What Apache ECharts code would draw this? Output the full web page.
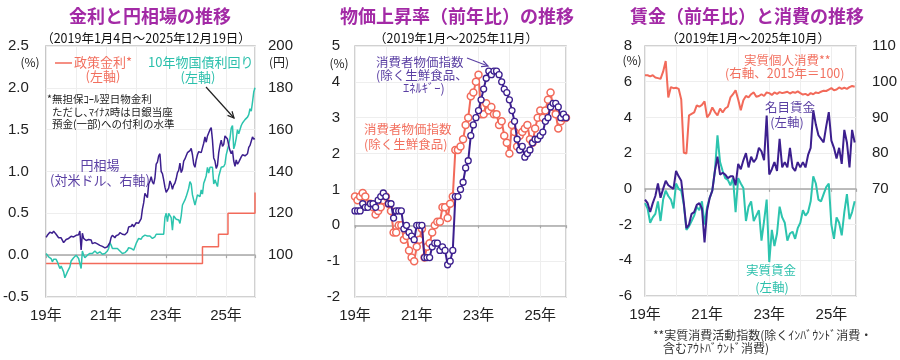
<!DOCTYPE html>
<html><head><meta charset="utf-8">
<script src="https://cdn.jsdelivr.net/npm/echarts@6/dist/echarts.min.js"></script>
<style>html,body{margin:0;padding:0;background:#fff}#c{width:900px;height:360px}</style>
</head><body><div id="c"></div>
<script>
// ---------- Panel 1: semi-monthly samples, Jan 2019 .. Dec 2025 ----------
const yenUsd = [
108.5,109.5,110.0,111.0,111.2,110.5,111.5,111.8,110.0,109.5,108.3,107.5,108.3,108.2,106.0,106.3,107.5,107.8,108.0,108.7,109.0,108.9,108.7,109.5,
109.5,109.3,109.8,111.5,102.5,110.5,108.0,107.5,107.0,107.6,107.5,107.0,107.3,105.5,106.2,106.0,106.0,105.4,105.5,104.7,104.5,104.2,104.0,103.5,
103.8,104.0,105.0,106.0,108.5,109.5,109.0,108.3,109.3,109.8,109.8,110.8,110.5,110.0,110.0,109.8,110.0,111.0,113.5,113.8,113.8,114.8,113.5,114.5,
115.5,114.8,115.3,115.0,117.5,122.0,125.0,129.5,130.0,127.5,134.0,135.5,137.5,135.0,134.0,137.0,143.5,144.5,147.5,148.5,140.0,139.0,136.0,132.5,
130.0,130.0,132.0,135.5,134.0,131.5,133.5,134.5,136.5,139.5,140.5,144.0,139.5,141.0,145.0,146.0,147.5,149.0,149.5,150.0,151.0,148.0,143.5,142.0,
145.5,148.0,149.5,150.3,149.0,151.3,153.5,156.5,154.0,157.0,157.0,160.0,161.0,155.0,146.5,145.0,141.5,143.0,149.0,152.5,155.0,152.0,153.0,157.0,
157.5,155.5,152.5,150.0,148.5,150.0,145.0,142.5,145.5,143.5,144.5,145.0,147.0,148.0,147.5,147.5,147.5,148.5,151.5,152.5,154.5,156.5,155.5,155.7
];
const jgb10y = [
0.02,0.00,-0.02,-0.03,-0.04,-0.08,-0.05,-0.04,-0.05,-0.08,-0.12,-0.16,-0.13,-0.14,-0.20,-0.27,-0.26,-0.20,-0.18,-0.14,-0.07,-0.08,-0.03,-0.01,
0.00,-0.02,-0.04,-0.05,-0.16,0.05,0.00,-0.03,-0.01,0.00,0.02,0.02,0.03,0.02,0.03,0.05,0.03,0.02,0.03,0.04,0.02,0.01,0.02,0.02,
0.04,0.05,0.08,0.15,0.12,0.08,0.10,0.08,0.08,0.08,0.06,0.05,0.03,0.02,0.02,0.03,0.04,0.06,0.09,0.09,0.08,0.07,0.06,0.07,
0.14,0.17,0.20,0.20,0.19,0.22,0.24,0.24,0.24,0.23,0.25,0.23,0.23,0.20,0.18,0.22,0.25,0.25,0.25,0.25,0.25,0.25,0.25,0.45,
0.50,0.40,0.50,0.50,0.45,0.30,0.47,0.46,0.43,0.43,0.42,0.38,0.47,0.60,0.62,0.66,0.70,0.75,0.80,0.88,0.85,0.72,0.66,0.60,
0.62,0.72,0.73,0.70,0.78,0.73,0.86,0.90,0.95,1.05,0.98,1.05,1.06,1.05,0.85,0.90,0.86,0.82,0.94,0.95,1.05,1.07,1.06,1.09,
1.20,1.22,1.32,1.40,1.52,1.55,1.27,1.32,1.40,1.50,1.45,1.43,1.55,1.58,1.56,1.62,1.60,1.65,1.68,1.75,1.72,1.83,1.95,2.00
];
const policyMonths = [0.1, 62.6, 69.0, 72.8, 83.6];   // months since Jan 2019
const policyRate   = [-0.1, 0.1, 0.25, 0.5, 0.75];

// ---------- Panel 2: monthly, Jan 2019 .. Nov 2025 ----------
const cpiCore = [
0.8,0.7,0.8,0.9,0.8,0.6,0.6,0.5,0.3,0.4,0.5,0.7,
0.8,0.6,0.4,-0.2,-0.2,0.0,0.0,-0.4,-0.3,-0.7,-0.9,-1.0,
-0.6,-0.4,-0.1,-0.9,-0.6,-0.5,-0.2,0.0,0.1,0.1,0.5,0.5,
0.2,0.6,0.8,2.1,2.1,2.2,2.4,2.8,3.0,3.6,3.7,4.0,
4.2,3.1,3.1,3.4,3.2,3.3,3.1,3.1,2.8,2.9,2.5,2.3,
2.0,2.8,2.6,2.2,2.5,2.6,2.7,2.8,2.4,2.3,2.7,3.0,
3.2,3.0,3.2,3.5,3.7,3.3,3.1,2.7,2.9,3.0,3.0
];
const cpiCoreCore = [
0.4,0.4,0.4,0.6,0.5,0.5,0.6,0.6,0.5,0.7,0.8,0.9,
0.8,0.6,0.6,0.2,0.4,0.4,0.4,-0.1,0.0,-0.2,-0.3,-0.4,
0.0,0.0,0.0,-0.9,-0.9,-0.9,-0.6,-0.5,-0.5,-0.7,-0.6,-0.7,
-1.1,-1.0,-0.7,0.8,0.8,1.0,1.2,1.6,1.8,2.5,2.8,3.0,
3.2,3.5,3.8,4.1,4.3,4.2,4.3,4.3,4.2,4.0,3.8,3.7,
3.5,3.2,2.9,2.4,2.1,2.2,1.9,2.0,2.1,2.3,2.4,2.4,
2.5,2.6,2.9,3.0,3.3,3.4,3.4,3.3,3.0,3.1,3.0
];

// ---------- Panel 3: monthly, Jan 2019 .. Oct 2025 ----------
const realConsumption = [
101.8,101.8,101.5,101.8,101.2,101.0,100.8,102.8,105.8,95.6,98.5,98.2,
98.3,98.0,95.0,80.1,79.9,90.6,91.0,91.4,93.4,93.0,93.5,94.5,
90.0,91.0,92.8,91.5,90.6,92.5,91.4,92.5,93.0,95.6,96.5,97.6,
95.0,92.0,94.8,96.0,95.6,96.5,97.0,95.8,96.0,96.5,96.0,97.0,
96.8,96.3,97.0,96.6,97.1,96.8,97.0,97.2,96.7,97.1,96.9,97.3,
96.8,96.4,96.6,96.2,96.8,96.5,97.0,96.8,97.2,97.5,97.4,97.8,
98.2,97.6,97.8,98.4,98.0,98.3,98.0,98.5,98.8,98.6
];
const nominalWage = [
-0.6,-0.8,-1.3,-0.8,-0.4,0.3,-0.5,0.0,0.45,0.2,0.1,0.0,
1.0,0.7,0.45,-0.8,-2.2,-2.0,-1.4,-1.3,-0.9,-0.8,-1.1,-3.0,
-1.2,-0.5,-0.1,1.0,1.8,0.8,0.9,0.8,0.6,0.7,0.7,0.2,
1.4,1.1,1.6,2.0,1.2,1.8,1.5,1.7,2.3,2.1,1.6,4.1,
0.8,1.1,1.5,1.0,2.8,1.2,1.5,1.2,2.3,1.2,1.0,1.5,
1.2,1.5,1.2,1.9,2.3,4.4,3.6,3.0,2.8,2.6,3.5,4.3,
2.7,2.3,1.7,2.3,1.4,3.3,2.6,1.2,3.3,2.6
];
const realWage = [
-0.8,-1.1,-1.9,-1.6,-1.4,-0.7,-1.8,-0.6,-0.1,-0.4,-0.6,-1.1,
0.3,0.0,-0.1,-0.9,-2.3,-2.1,-1.8,-1.5,-1.0,-1.2,-0.7,-2.0,
-1.0,-0.5,-0.1,1.0,3.0,1.5,1.0,0.6,0.5,0.2,0.6,-1.3,
0.6,0.3,0.05,-1.8,-1.0,-0.7,-1.8,-1.5,-1.2,-2.9,-1.8,-0.6,
-4.1,-2.3,-3.2,-2.5,-1.0,-1.6,-1.9,-2.9,-2.5,-2.4,-2.8,-2.2,
-1.9,-1.2,-1.5,-1.3,-0.7,0.7,0.3,-0.6,-0.7,-0.3,0.1,0.3,
-2.0,-2.8,-1.6,-1.9,-2.6,-1.3,-0.3,-1.7,-1.3,-0.7
];
const yearTicks = ['19年','21年','23年','25年'];

// ---------- styles ----------
const RED = '#F26A5A', TEAL = '#2CC4AE', PURPLE = '#3C1F8E';
const RED_T = '#F2705F', TEAL_T = '#2CC0AC', PURPLE_T = '#5A3FA3';
const TITLE_C = '#A32AA6';
const JP = "'Noto Sans CJK JP', sans-serif";
const NUM = "'Liberation Sans', 'Noto Sans CJK JP', sans-serif";
const GRID_C = '#EEEEEE';

function xPair(gridIndex, max, zeroY) {
  return [
    { type:'value', gridIndex, min:0, max, interval:12, position:'bottom',
      axisLine:{show:false}, axisTick:{show:false},
      axisLabel:{ color:'#222', fontSize:15, fontFamily:NUM, margin:11,
        formatter: v => (v % 24 === 0 && v <= 72) ? yearTicks[v/24] : '' },
      splitLine:{show:true, lineStyle:{color:GRID_C, width:1}} },
    { type:'value', gridIndex, min:0, max, interval:24, position:'top',
      axisLine:{show:true, onZero:true, onZeroAxisIndex:zeroY, lineStyle:{color:'#A8A8A8', width:1.5}},
      axisTick:{show:true, length:3, inside:true, lineStyle:{color:'#A8A8A8', width:1.2}},
      axisLabel:{show:false}, splitLine:{show:false} }
  ];
}
function yAx(gridIndex, pos, min, max, interval, fmt, margin, split) {
  return { type:'value', gridIndex, position:pos, min, max, interval,
    axisLine:{show:false}, axisTick:{show:false},
    axisLabel:{color:'#222', fontSize:15, fontFamily:NUM, margin, formatter:fmt},
    splitLine:{show:split, lineStyle:{color:GRID_C, width:1}} };
}
function txt(x, y, text, color, size, align, weight) {
  return { type:'text', x, y, z:10, style:{ text, fill:color,
    font:(weight||'normal') + ' ' + size + 'px ' + JP,
    textAlign:align||'left', align:align||'left', textVerticalAlign:'middle', verticalAlign:'middle' } };
}
function arrow(x1, y1, x2, y2, color) {
  const a = Math.atan2(y2-y1, x2-x1), L = 7, w = 0.45;
  return [
    { type:'line', z:10, shape:{x1, y1, x2, y2}, style:{stroke:color, lineWidth:1.2} },
    { type:'polyline', z:10, shape:{points:[[x2-L*Math.cos(a-w), y2-L*Math.sin(a-w)],[x2,y2],[x2-L*Math.cos(a+w), y2-L*Math.sin(a+w)]]},
      style:{stroke:color, lineWidth:1.2, fill:null} }
  ];
}

const chart = echarts.init(document.getElementById('c'), null, {renderer:'canvas'});
const gridStyle = {show:true, borderColor:'#C2C2C2', borderWidth:1.5, containLabel:false};

const option = {
  animation:false,
  backgroundColor:'#fff',
  grid:[
    Object.assign({left:45, top:46, width:210, height:251}, gridStyle),
    Object.assign({left:355, top:46, width:211, height:251}, gridStyle),
    Object.assign({left:645, top:46, width:213, height:250}, gridStyle)
  ],
  xAxis:[].concat(xPair(0, 83.6, 0), xPair(1, 82, 2), xPair(2, 81.5, 3)),
  yAxis:[
    yAx(0,'left',-0.5,2.5,0.5, v => v.toFixed(1), 17, true),
    yAx(0,'right',80,200,20, v => v >= 100 ? String(v) : '', 13, false),
    yAx(1,'left',-2,5,1, v => String(v), 15, true),
    yAx(2,'left',-6,8,2, v => String(v), 13, true),
    yAx(2,'right',40,110,10, v => v >= 70 ? String(v) : '', 16, false)
  ],
  series:[
    { type:'line', xAxisIndex:0, yAxisIndex:0, step:'end', showSymbol:false,
      data: policyMonths.map((m,i) => [m, policyRate[i]]),
      lineStyle:{color:RED, width:1.5}, itemStyle:{color:RED}, z:3 },
    { type:'line', xAxisIndex:0, yAxisIndex:0, showSymbol:false,
      data: jgb10y.map((v,i) => [i*0.5+0.1, v]),
      lineStyle:{color:TEAL, width:1.5}, itemStyle:{color:TEAL}, z:4 },
    { type:'line', xAxisIndex:0, yAxisIndex:1, showSymbol:false,
      data: yenUsd.map((v,i) => [i*0.5+0.1, v]),
      lineStyle:{color:PURPLE, width:1.5}, itemStyle:{color:PURPLE}, z:5 },

    { type:'line', xAxisIndex:2, yAxisIndex:2, symbol:'circle', symbolSize:7,
      data: cpiCore.map((v,i) => [i, v]),
      lineStyle:{color:RED, width:2}, itemStyle:{color:'#fff', borderColor:RED, borderWidth:1.5}, z:4 },
    { type:'line', xAxisIndex:2, yAxisIndex:2, symbol:'circle', symbolSize:6,
      data: cpiCoreCore.map((v,i) => [i, v]),
      lineStyle:{color:PURPLE, width:2}, itemStyle:{color:'#fff', borderColor:PURPLE, borderWidth:1.3}, z:5 },

    { type:'line', xAxisIndex:4, yAxisIndex:4, showSymbol:false,
      data: realConsumption.map((v,i) => [i, v]),
      lineStyle:{color:RED, width:2}, itemStyle:{color:RED}, z:3 },
    { type:'line', xAxisIndex:4, yAxisIndex:3, showSymbol:false,
      data: realWage.map((v,i) => [i, v]),
      lineStyle:{color:TEAL, width:2}, itemStyle:{color:TEAL}, z:4 },
    { type:'line', xAxisIndex:4, yAxisIndex:3, showSymbol:false,
      data: nominalWage.map((v,i) => [i, v]),
      lineStyle:{color:PURPLE, width:2}, itemStyle:{color:PURPLE}, z:5 }
  ],
  graphic:[].concat(
    [
      txt(150, 16, '金利と円相場の推移', TITLE_C, 18, 'center', 'bold'),
      txt(457, 16, '物価上昇率（前年比）の推移', TITLE_C, 18, 'center', 'bold'),
      txt(747, 16, '賃金（前年比）と消費の推移', TITLE_C, 18, 'center', 'bold'),
      txt(146, 38, '（2019年1月4日～2025年12月19日）', '#111', 12.5, 'center'),
      txt(456, 38, '（2019年1月～2025年11月）', '#111', 12.5, 'center'),
      txt(748, 38, '（2019年1月～2025年10月）', '#111', 12.5, 'center'),
      txt(30, 62, '(%)', '#222', 12, 'center'),
      txt(279, 62, '(円)', '#222', 12, 'center'),
      txt(339, 63, '(%)', '#222', 12, 'center'),
      txt(632, 60, '(%)', '#222', 12, 'center'),

      { type:'line', z:10, shape:{x1:55, y1:63, x2:72, y2:63}, style:{stroke:RED, lineWidth:1.5} },
      txt(74, 62, '政策金利*', RED_T, 13, 'left'),
      txt(103, 76, '(左軸)', RED_T, 13, 'center'),
      txt(148, 62, '10年物国債利回り', TEAL_T, 13, 'left'),
      txt(198, 77, '(左軸)', TEAL_T, 13, 'center'),
      txt(47, 99, '*無担保ｺｰﾙ翌日物金利', '#222', 10.5, 'left'),
      txt(52, 112, 'ただし､ﾏｲﾅｽ時は日銀当座', '#222', 10.5, 'left'),
      txt(52, 124, '預金(一部)への付利の水準', '#222', 10.5, 'left'),
      txt(100, 165, '円相場', PURPLE_T, 13, 'center'),
      txt(100, 180, '(対米ドル、右軸)', PURPLE_T, 13, 'center'),

      txt(376, 62, '消費者物価指数', PURPLE_T, 12.5, 'left'),
      txt(376, 75, '(除く生鮮食品、', PURPLE_T, 12.5, 'left'),
      txt(403, 88, 'ｴﾈﾙｷﾞｰ)', PURPLE_T, 12.5, 'left'),
      txt(364, 129, '消費者物価指数', RED_T, 12.5, 'left'),
      txt(364, 144, '(除く生鮮食品)', RED_T, 12.5, 'left'),

      txt(744, 60, '実質個人消費**', RED_T, 12.5, 'left'),
      txt(725, 73, '(右軸、2015年＝100)', RED_T, 12.5, 'left'),
      txt(765, 107, '名目賃金', PURPLE_T, 12.5, 'left'),
      txt(787, 122, '(左軸)', PURPLE_T, 12.5, 'center'),
      txt(746, 270, '実質賃金', TEAL_T, 12.5, 'left'),
      txt(772, 287, '(左軸)', TEAL_T, 12.5, 'center'),
      txt(653, 335, '**実質消費活動指数(除くｲﾝﾊﾞｳﾝﾄﾞ消費・', '#333', 12, 'left'),
      txt(663, 348, '含むｱｳﾄﾊﾞｳﾝﾄﾞ消費)', '#333', 12, 'left')
    ],
    arrow(206, 87, 234, 118, '#222'),
    arrow(467, 58, 488, 66, PURPLE_T)
  )
};
chart.setOption(option);
</script>
</body></html>
